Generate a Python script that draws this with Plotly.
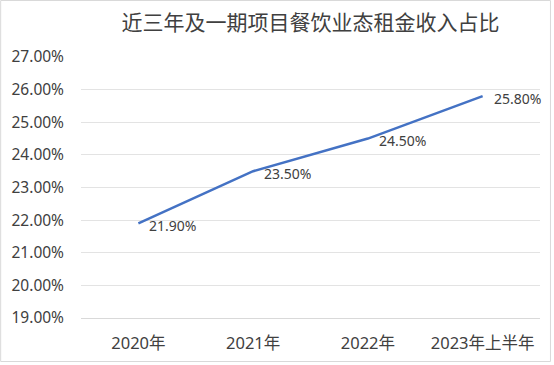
import plotly.graph_objects as go

categories = ["2020年", "2021年", "2022年", "2023年上半年"]
values = [21.9, 23.5, 24.5, 25.8]
y_ticks = [19, 20, 21, 22, 23, 24, 25, 26, 27]
title_text = "近三年及一期项目餐饮业态租金收入占比"

num_font = "Noto Sans, Noto Sans CJK SC, sans-serif"
cjk_font = "Noto Sans CJK SC, sans-serif"

fig = go.Figure()
fig.add_trace(go.Scatter(
    x=categories,
    y=values,
    mode="lines",
    line=dict(color="#4472C4", width=2.5),
    hoverinfo="skip",
))

annotations = [
    dict(x=c, y=v, xref="x", yref="y", text=f"{v:.2f}%", showarrow=False,
         xanchor="left", yanchor="middle", xshift=9, yshift=-2,
         font=dict(family=num_font, size=14, color="#404040"))
    for c, v in zip(categories, values)
]

fig.update_layout(
    width=554, height=365,
    margin=dict(l=81, r=14, t=57, b=47),
    paper_bgcolor="white",
    plot_bgcolor="white",
    showlegend=False,
    title=dict(text=title_text, x=0.5, xanchor="center", xref="paper", y=1 - 23 / 365, yanchor="middle",
               font=dict(family=cjk_font, size=21, color="#404040")),
    xaxis=dict(
        type="category",
        range=[-0.5, 3.5],
        showgrid=False,
        showline=True,
        linecolor="#D9D9D9",
        linewidth=1,
        ticks="",
        ticklabelstandoff=10,
        tickfont=dict(family=num_font, size=16.5, color="#404040"),
        fixedrange=True,
    ),
    yaxis=dict(
        range=[19, 27],
        tickvals=y_ticks,
        ticktext=[f"{t:.2f}%" for t in y_ticks],
        showgrid=True,
        gridcolor="#E3E3E3",
        gridwidth=1,
        zeroline=False,
        showline=False,
        ticks="",
        ticklabelstandoff=16,
        tickfont=dict(family=num_font, size=15.5, color="#404040"),
        automargin=False,
        fixedrange=True,
    ),
    annotations=annotations,
    shapes=[dict(type="rect", xref="paper", yref="paper",
                 x0=-0.175, x1=1.0228, y0=-0.1667, y1=1.2165,
                 line=dict(color="#D9D9D9", width=1), layer="below")],
)

fig.write_html("out.html", config={"displayModeBar": False},
               post_script="document.body.style.margin='0';")
